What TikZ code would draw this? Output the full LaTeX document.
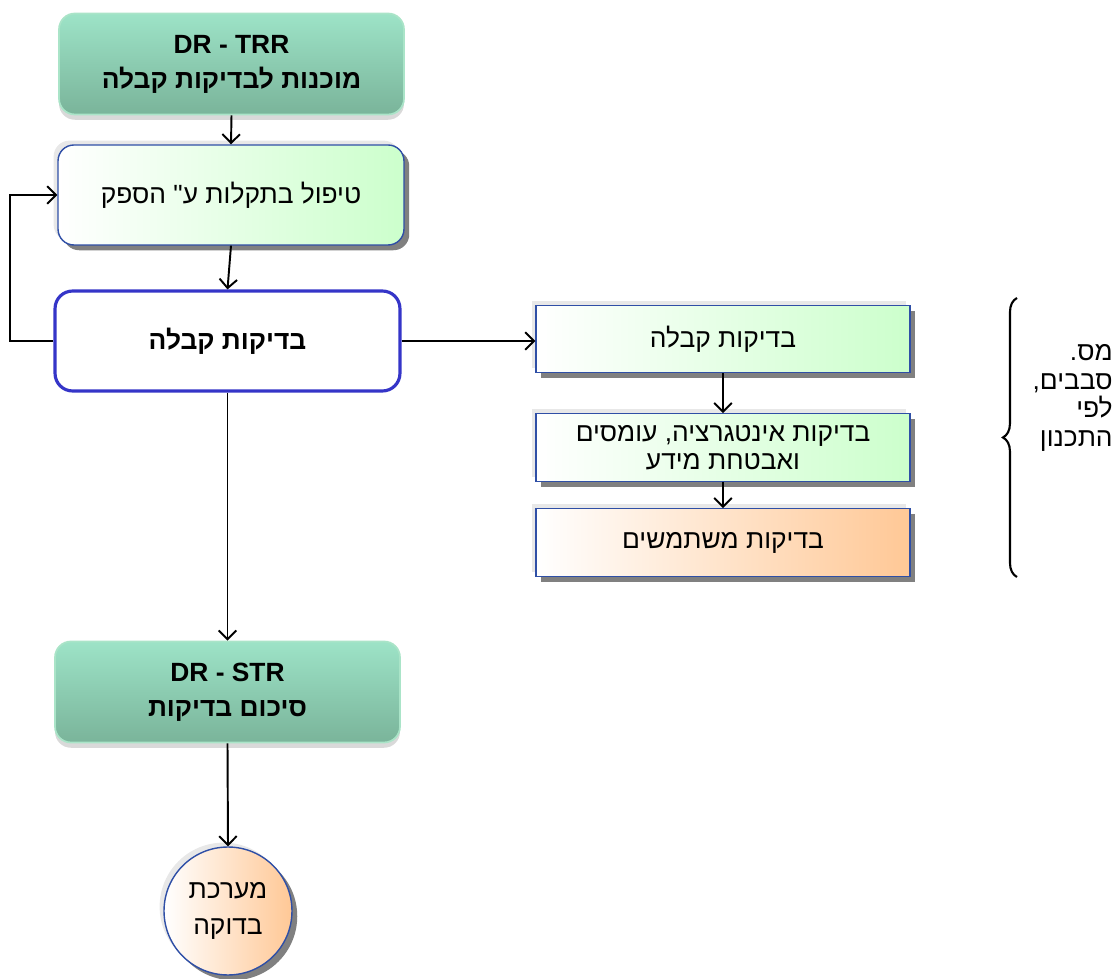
\documentclass[tikz,border=0pt]{standalone}
\usepackage{fontspec}
\setmainfont{Liberation Sans}
\newfontfamily\heb[Script=Hebrew]{Liberation Sans}
\TeXXeTstate=1
\newcommand{\hb}[1]{{\heb\beginR #1\endR}}
\usetikzlibrary{shadows,arrows.meta,decorations.pathreplacing}
\definecolor{gtop}{RGB}{157,227,199}
\definecolor{gbot}{RGB}{122,180,154}
\definecolor{gedge}{RGB}{170,228,200}
\definecolor{lgreen}{RGB}{204,255,204}
\definecolor{lorange}{RGB}{255,200,150}
\definecolor{bedge}{RGB}{47,79,166}
\definecolor{bthick}{RGB}{53,53,200}
\begin{document}
\begin{tikzpicture}[x=0.02cm,y=-0.02cm,
  txt/.style={font=\fontsize{15}{20}\selectfont, align=center, inner sep=0pt},
  greenbox/.style={txt, font=\fontsize{15}{20}\selectfont\bfseries, rounded corners=9pt,
    draw=gedge, line width=1pt, top color=gtop, bottom color=gbot,
    minimum width=6.9cm, minimum height=2.02cm,
    general shadow={fill=black, opacity=0.15, shadow xshift=0pt, shadow yshift=-3pt}},
  twoshadow/.style={
    general shadow={fill=gray!18, shadow xshift=-2.5pt, shadow yshift=2.5pt},
    general shadow={fill=gray, shadow xshift=3pt, shadow yshift=-3pt}},
  lgbox/.style={txt, draw=bedge, line width=0.8pt, left color=white, right color=lgreen, twoshadow},
  orbox/.style={txt, draw=bedge, line width=0.8pt, left color=white, right color=lorange, twoshadow},
  thickbox/.style={txt, font=\fontsize{15}{20}\selectfont\bfseries, draw=bthick, line width=1.8pt,
    fill=white, rounded corners=10pt, minimum width=6.9cm, minimum height=2cm},
  rbox/.style={minimum width=7.48cm, minimum height=1.35cm},
  arr/.style={line width=1.1pt, -{Straight Barb[length=5pt,width=10pt]}}
]
\useasboundingbox (0,0) rectangle (1117,979);

\node[greenbox] (trr) at (231.5,64) {DR - TRR\\\hb{מוכנות לבדיקות קבלה}};
\node[lgbox, rounded corners=9pt, minimum width=6.92cm, minimum height=2cm] (fix) at (231,195) {\hb{טיפול בתקלות ע" הספק}};
\node[thickbox] (acc) at (227.5,341) {\hb{בדיקות קבלה}};
\node[greenbox] (str) at (227.5,692) {DR - STR\\\hb{סיכום בדיקות}};
\node[txt, circle, draw=bedge, line width=0.8pt, left color=white, right color=lorange, twoshadow,
  minimum size=2.56cm] (sys) at (228,911) {\hb{מערכת}\\\hb{בדוקה}};

\node[lgbox, rbox] (r1) at (723,339) {\hb{בדיקות קבלה}};
\node[lgbox, rbox, font=\fontsize{15}{16}\selectfont] (r2) at (723,447.5) {\hb{בדיקות אינטגרציה, עומסים}\\\hb{ואבטחת מידע}};
\node[orbox, rbox] (r3) at (723,542.5) {\hb{בדיקות משתמשים}};

\coordinate (bt) at (1017,298);
\coordinate (bb) at (1017,577);
\draw[line width=1.2pt, decorate, decoration={brace, amplitude=8pt}] (bb) -- (bt);
\node[txt, anchor=north east, align=right, font=\fontsize{15}{16.3}\selectfont] (rounds) at (1113,344)
  {\hb{מס.}\\\hb{סבבים,}\\\hb{לפי}\\\hb{התכנון}};

\draw[arr] (trr.south) -- (fix.north);
\draw[arr] (fix.south) -- (acc.north);
\draw[arr] (acc.east) -- (acc.east -| r1.west);
\draw[arr] (acc.south) -- (str.north);
\draw[arr] (str.south) -- (sys.north);
\draw[arr] (acc.west) -- ++(-43,0) |- (fix.west);
\draw[arr] (r1.south) -- (r2.north);
\draw[arr] (r2.south) -- (r3.north);
\end{tikzpicture}
\end{document}
